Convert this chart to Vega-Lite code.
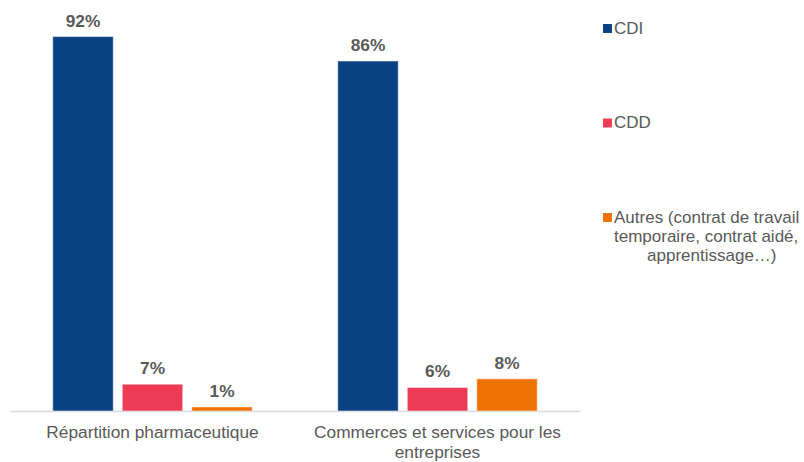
{
  "$schema": "https://vega.github.io/schema/vega-lite/v6.json",
  "width": 570,
  "height": 411,
  "autosize": {"type": "none"},
  "padding": {"left": 10, "top": 0, "right": 224, "bottom": 51},
  "background": "white",
  "config": {"view": {"stroke": null}, "font": "Liberation Sans"},
  "data": {
    "values": [
      {"secteur": "Répartition pharmaceutique", "type": "CDI", "ordre": 1, "valeur": 0.92},
      {"secteur": "Répartition pharmaceutique", "type": "CDD", "ordre": 2, "valeur": 0.066},
      {"secteur": "Répartition pharmaceutique", "type": "Autres (contrat de travail temporaire, contrat aidé, apprentissage…)", "ordre": 3, "valeur": 0.01},
      {"secteur": "Commerces et services pour les entreprises", "type": "CDI", "ordre": 1, "valeur": 0.86},
      {"secteur": "Commerces et services pour les entreprises", "type": "CDD", "ordre": 2, "valeur": 0.058},
      {"secteur": "Commerces et services pour les entreprises", "type": "Autres (contrat de travail temporaire, contrat aidé, apprentissage…)", "ordre": 3, "valeur": 0.079}
    ]
  },
  "encoding": {
    "x": {
      "field": "secteur", "type": "nominal", "sort": null,
      "scale": {"paddingInner": 0.3, "paddingOuter": 0.15},
      "axis": {
        "title": null, "labelAngle": 0, "ticks": false, "domainColor": "#d9d9d9", "domainWidth": 1.5,
        "labelFontSize": 17.3, "labelColor": "#595959", "labelPadding": 12, "labelLimit": 400,
        "labelExpr": "datum.label == 'Commerces et services pour les entreprises' ? ['Commerces et services pour les', 'entreprises'] : datum.label",
        "labelLineHeight": 20
      }
    },
    "xOffset": {"field": "ordre", "type": "ordinal", "scale": {"paddingInner": 0.13}},
    "y": {"field": "valeur", "type": "quantitative", "scale": {"domain": [0, 1.01]}, "axis": null}
  },
  "layer": [
    {
      "mark": {"type": "bar", "stroke": "white", "strokeWidth": 0.5},
      "encoding": {
        "color": {
          "field": "type", "type": "nominal",
          "sort": ["CDI", "CDD", "Autres (contrat de travail temporaire, contrat aidé, apprentissage…)"],
          "scale": {"range": ["#0A4283", "#EE3B55", "#EE7203"]},
          "legend": {
            "title": null, "orient": "none", "legendX": 589, "legendY": 20,
            "symbolType": "square", "symbolSize": 80, "symbolStrokeWidth": 0,
            "labelFontSize": 17, "labelColor": "#595959", "labelOffset": -2, "labelLimit": 300,
            "rowPadding": 76.5, "labelLineHeight": 20,
            "labelExpr": "datum.label == 'CDI' || datum.label == 'CDD' ? datum.label : ['Autres (contrat de travail', 'temporaire, contrat aidé,', '\u200b\u00a0\u00a0\u00a0\u00a0\u00a0\u00a0\u00a0apprentissage…)']"
          }
        }
      }
    },
    {
      "mark": {"type": "text", "dy": -15, "fontSize": 17.3, "fontWeight": "bold", "color": "#595959"},
      "encoding": {"text": {"field": "valeur", "type": "quantitative", "format": ".0%"}}
    }
  ]
}
